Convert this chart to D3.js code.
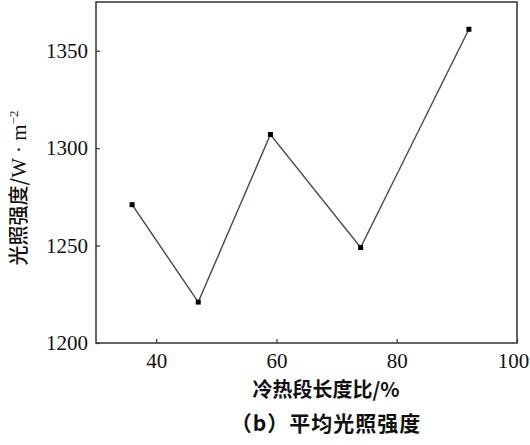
<!DOCTYPE html>
<html>
<head>
<meta charset="utf-8">
<script src="https://cdn.jsdelivr.net/npm/d3@7"></script>
<style>
  body { margin: 0; background: #fff; }
  svg { display: block; }
</style>
</head>
<body>
<svg id="chart" width="530" height="445"></svg>
<script>
// data
const ratios = [36, 47, 59, 74, 92];
const intensity = [1271, 1221, 1307, 1249, 1361];
const xTicks = [40, 60, 80, 100];
const yTicks = [1200, 1250, 1300, 1350];

const serif = "Liberation Serif";
const cjk = "Noto Sans CJK SC";

const svg = d3.select("#chart"),
  margin = { top: 2, right: 13, bottom: 102, left: 96 },
  width = 530 - margin.left - margin.right,
  height = 445 - margin.top - margin.bottom;

const x = d3.scaleLinear().domain([30, 100]).range([0, width]);
const y = d3.scaleLinear().domain([1200, 1375]).range([height, 0]);

const g = svg.append("g").attr("transform", `translate(${margin.left},${margin.top})`);

// frame
g.append("rect")
  .attr("width", width)
  .attr("height", height)
  .attr("fill", "none")
  .attr("stroke", "#333")
  .attr("stroke-width", 1.5);

// axes (ticks point inward)
const xAxis = d3.axisBottom(x).tickValues(xTicks).tickFormat(d3.format("d"))
  .tickSize(-4).tickPadding(10).tickSizeOuter(0);
const yAxis = d3.axisLeft(y).tickValues(yTicks).tickFormat(d3.format("d"))
  .tickSize(-4).tickPadding(8).tickSizeOuter(0);

const gx = g.append("g").attr("transform", `translate(0,${height})`).call(xAxis);
const gy = g.append("g").call(yAxis);

[gx, gy].forEach((a) => {
  a.attr("font-family", serif).attr("font-size", 21);
  a.select(".domain").remove();
  a.selectAll("line").attr("stroke", "#333").attr("stroke-width", 1.2);
  a.selectAll("text").attr("fill", "#111");
});
// last x label sits a little left so it stays inside the page
gx.selectAll("text").filter((d) => d === 100).attr("dx", -4);

// line
const data = ratios.map((r, i) => ({ r: r, v: intensity[i] }));
g.append("path")
  .datum(data)
  .attr("fill", "none")
  .attr("stroke", "#3d4c52")
  .attr("stroke-width", 1.4)
  .attr("d", d3.line().x((d) => x(d.r)).y((d) => y(d.v)));

g.selectAll(".pt")
  .data(data)
  .enter()
  .append("rect")
  .attr("class", "pt")
  .attr("x", (d) => x(d.r) - 2.5)
  .attr("y", (d) => y(d.v) - 2.5)
  .attr("width", 5)
  .attr("height", 5)
  .attr("fill", "#000");

// labels
const yl = svg.append("text")
  .attr("transform", "translate(26,188) rotate(-90)")
  .attr("text-anchor", "middle")
  .attr("font-family", cjk)
  .attr("font-size", 20)
  .attr("font-weight", 500)
  .attr("fill", "#111");
yl.append("tspan").text("光照强度/");
yl.append("tspan").attr("font-family", serif).attr("font-weight", 400).attr("font-size", 21).text("W · m");
yl.append("tspan").attr("font-family", serif).attr("font-weight", 400).attr("dy", -8).attr("font-size", 13).text("−2");

svg.append("text")
  .attr("x", 326)
  .attr("y", 397)
  .attr("text-anchor", "middle")
  .attr("font-family", cjk)
  .attr("font-size", 20)
  .attr("font-weight", "bold")
  .attr("fill", "#111")
  .text("冷热段长度比/%");

svg.append("text")
  .attr("x", 326)
  .attr("y", 431)
  .attr("text-anchor", "middle")
  .attr("font-family", cjk)
  .attr("font-size", 21)
  .attr("font-weight", "bold")
  .attr("letter-spacing", 1)
  .attr("fill", "#111")
  .text("（b）平均光照强度");
</script>
</body>
</html>
